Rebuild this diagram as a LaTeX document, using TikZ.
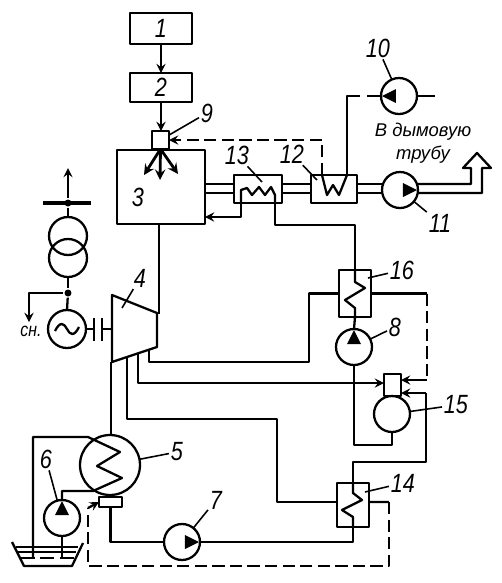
\documentclass[tikz,border=0pt]{standalone}
\usepackage{fontspec}
\setmainfont{Liberation Sans}
\newfontfamily\numfont{Liberation Sans}[ItalicFeatures={FakeStretch=0.82}]
\usetikzlibrary{positioning, calc}

\begin{document}
\begin{tikzpicture}[x=0.02cm, y=-0.02cm, >=stealth, line width=1.3pt, line join=round,
    box/.style={draw, rectangle, inner sep=0pt, outer sep=0pt},
    pump/.style={draw, circle, inner sep=0pt, outer sep=0pt, minimum size=0.72cm},
    dot/.style={fill, circle, inner sep=0pt, minimum size=0.14cm},
    num/.style={font=\numfont\itshape\fontsize{15}{15}\selectfont, inner sep=0.5pt},
    dashline/.style={dash pattern=on 7pt off 3pt},
    leader/.style={line width=0.9pt}]
    \useasboundingbox (0,0) rectangle (502,583);

    \node [box, num, minimum width=1.24cm, minimum height=0.62cm] (b1) at (161,28.5) {1};
    \node [box, num, minimum width=1.24cm, minimum height=0.58cm] (b2) at (161,87.5) {2};
    \node [box, minimum width=1.76cm, minimum height=1.48cm] (b3) at (161,187) {};
    \node [box, minimum width=0.34cm, minimum height=0.36cm] (b9) at (160.5,140) {};
    \node [box, minimum width=0.96cm, minimum height=0.56cm] (b13) at (258,189) {};
    \node [box, minimum width=0.92cm, minimum height=0.56cm] (b12) at (334,189) {};
    \node [box, minimum width=0.64cm, minimum height=0.94cm] (b16) at (355,293.5) {};
    \node [box, minimum width=0.64cm, minimum height=0.88cm] (b14) at (353,505) {};
    \node [box, minimum width=0.34cm, minimum height=0.44cm] (b15) at (392.5,385) {};
    \node [box, minimum width=0.46cm, minimum height=0.2cm] (hw) at (110.5,502) {};

    \node [pump] (p10) at (399,96) {};
    \node [pump] (p11) at (400,190) {};
    \node [pump] (p8) at (354,347) {};
    \node [pump] (p7) at (182,542) {};
    \node [pump] (p6) at (62,518) {};
    \node [pump] (c15) at (392,414) {};
    \node [pump, minimum size=1.2cm] (cond) at (110,465) {};
    \node [pump, minimum size=0.76cm] (tr1) at (68,236) {};
    \node [pump, minimum size=0.76cm] (tr2) at (68,258) {};
    \node [pump, minimum size=0.76cm] (gen) at (67,329) {};
    \node [dot] (bus) at (68,203) {};
    \node [dot] (tap) at (68,293) {};

    % pump triangles
    \foreach \name/\ang in {p10/180, p11/0, p8/90, p6/90, p7/0}
        \fill [shift={(\name)}, rotate=\ang] (3,-7) -- (17,0) -- (3,7) -- cycle;

    \coordinate (g1) at (0,184);
    \coordinate (g2) at (0,193);
    \coordinate (c13a) at (241,203);
    \coordinate (c13b) at (275,203);
    \coordinate (c12a) at (322,175);
    \coordinate (c12b) at (347,175);
    \coordinate (e1) at (111,362);
    \coordinate (e2) at (127,357);
    \coordinate (e3) at (138,353);
    \coordinate (e4) at (149,350);
    \coordinate (f2) at (277,419);
    \coordinate (f4) at (309,362);
    \coordinate (f15) at (426,393);
    \coordinate (f16) at (427,293.5);
    \coordinate (f16b) at (427,380);
    \coordinate (f14) at (389,502);
    \coordinate (f7) at (88,566);
    \coordinate (f8) at (88,508);
    \coordinate (steam) at (159,314);
    \coordinate (w1) at (33,558);
    \coordinate (w2) at (62,558);

    % turbine
    \draw (112,295) -- (157,313) -- (157,347) -- (112,362) -- cycle;
    \draw (gen.east) -- (93,329);
    \draw (94,318) -- (94,341);
    \draw (102,318) -- (102,341);
    \draw (102,329) -- (112,329);
    \draw [shift={(gen)}] (-12,2) .. controls (-7,-8) and (-3,-6) .. (0,0) .. controls (3,6) and (7,8) .. (12,-2);

    % fuel and furnace
    \draw [->] (b1) -- (b2);
    \draw [->] (b2.south) -- (b2.south |- b9.north);
    \foreach \x/\y in {144/175, 160/180, 178/174}
        \draw [->, line width=1.6pt] (b9.south) -- (\x,\y);

    % flue gas path
    \foreach \g in {g1, g2} {
        \draw (b3.east |- \g) -- (b13.west |- \g);
        \draw (b13.east |- \g) -- (b12.west |- \g);
        \draw (b12.east |- \g) -- (p11.west |- \g);
    }
    \draw (p11.east |- g1) -- (471,184) -- (471,168) -- (463,168) -- (477,153) -- (491,168) -- (482,168) -- (482,193) -- (p11.east |- g2);

    % coils
    \draw (c13a) -- (241,190) -- (247,188) -- (252,195) -- (259,187) -- (265,195) -- (271,187) -- (275,195) -- (c13b);
    \draw (c12a) -- (327,195) -- (333,185) -- (339,195) -- (c12b);
    \draw (b16.north) -- ++(0,12) -- ++(10,6) -- ++(-20,12) -- ++(10,8) -- (b16.south);
    \draw (b14.north) -- ++(0,10) -- ++(9,7) -- ++(-20,10) -- ++(11,7) -- (b14.south);
    \draw (w1) |- (88,437) -- (120,452) -- (97,466) -- (122,478) -- (93,491) -| (p6.north);

    % feed and steam lines
    \draw [->] (c13a) |- ([yshift=-0.6cm]b3.east);
    \draw (c13b) -- ++(0,22) -| (b16.north);
    \draw (steam |- b3.south) -- (steam);
    \draw (e1) -- (e1 |- cond.north);
    \draw (e2) |- (f2) |- ([yshift=0.06cm]b14.west);
    \draw [->] (e3) |- ([yshift=0.04cm]b15.west);
    \draw (e4) |- (f4) |- (b16.west);
    \draw (b16.south) -- (p8.north);
    \draw (p8.south) -- ++(0,80) -| (c15.south);
    \draw (b15.south) -- (c15.north);
    \draw (b16.east) -- (f16);
    \draw [dashline] (f16) -- (f16b);
    \draw [->] (f16b) -- (b15.east |- f16b);
    \draw (b14.north) -- ++(0,-21) -| (f15);
    \draw [->] (f15) -- (b15.east |- f15);
    \draw (b14.south) |- (p7.east);
    \draw (p7.west) -| (hw.south);
    \draw ([yshift=0.06cm]b14.east) -- (f14);
    \draw [dashline] (f14) |- (f7) -- (f8);
    \draw [->] (f8) -- (hw.west);
    \draw (p6.south) -- (w2);

    % air lines
    \draw [dashline, ->] (c12a) |- (b9.east);
    \draw (c12b) |- (360,96);
    \draw (367,96) -- (p10.west);
    \draw (p10.east) -- (435,96);

    % electrical part
    \draw [line width=2.4pt] (43,203) -- (91,203);
    \draw [->] (bus) -- (68,168);
    \draw (bus) -- (tr1.north);
    \draw (tr2.south) -- (tap);
    \draw (tap) -- (gen.north);
    \draw [->] (tap) -| (29,322);
    \node [num, font=\numfont\itshape\fontsize{11}{11}\selectfont] (sn) at (31,331) {сн.};

    % cooling water basin
    \draw (12,542) -- (24,566) -- (72,566) -- (83,543);
    \draw [line width=0.7pt] (16,547) -- (78,547);
    \draw [line width=0.7pt] (18,552) -- (76,552);
    \draw [line width=0.7pt, dash pattern=on 8pt off 3pt] (21,558) -- (74,558);

    % numbers and leaders
    \foreach \n/\x/\y in {3/138/197, 4/140/278, 5/177/452, 6/46/459, 7/216/500, 8/395/327, 9/207/113,
        10/378/48, 11/440/223, 12/292/154, 13/237/155, 14/403/483, 15/456/405, 16/402/270}
        \node [num] (l\n) at (\x,\y) {\n};
    \coordinate (t4) at (122,308);
    \coordinate (t13) at (262,182);
    \coordinate (t12) at (317,180);
    \coordinate (t16) at (368,278);
    \coordinate (t14) at (365,492);
    \foreach \a/\b in {l4/t4, l13/t13, l12/t12, l16/t16, l14/t14, l5/cond, l6/p6, l7/p7, l8/p8, l9/b9, l10/p10, l11/p11, l15/c15}
        \draw [leader] (\a) -- (\b);

    \node [align=center, inner sep=0pt, font=\itshape\fontsize{10.5}{13}\selectfont] (flue) at (423,143) {В дымовую\\трубу};
\end{tikzpicture}
\end{document}
